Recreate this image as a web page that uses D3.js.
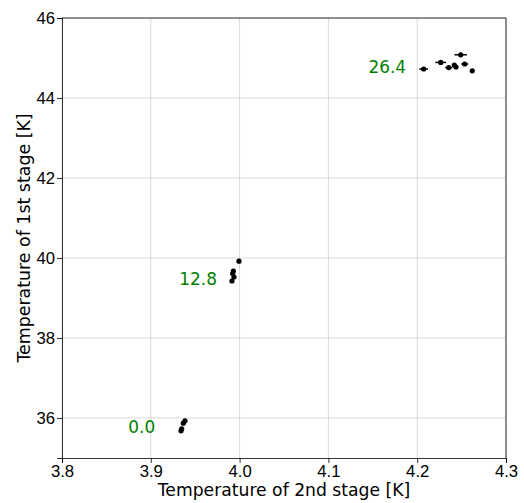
<!DOCTYPE html>
<html>
<head>
<meta charset="utf-8">
<script src="https://cdn.jsdelivr.net/npm/d3@7/dist/d3.min.js"></script>
<style>
  body { margin: 0; background: #fff; }
  svg { font-family: "DejaVu Sans", sans-serif; }
  .tick text { font-size: 16.7px; fill: #000; }
  .grid line { stroke: #b0b0b0; stroke-opacity: 0.6; stroke-width: 0.8; }
</style>
</head>
<body>
<svg id="chart" width="524" height="503"></svg>
<script>
// stage temperatures [K] per power setting
const stage2 = [
  3.9385, 3.9366, 3.9348, 3.9340,
  3.9993, 3.9930, 3.9922, 3.9937, 3.9914,
  4.2073, 4.2265, 4.2355, 4.2418, 4.2437, 4.2490, 4.2535, 4.2620
];
const stage1 = [
  35.93, 35.87, 35.73, 35.68,
  39.92, 39.675, 39.61, 39.525, 39.425,
  44.725, 44.89, 44.76, 44.825, 44.775, 45.08, 44.85, 44.68
];
const stage2Err = [
  0, 0, 0, 0,
  0, 0, 0, 0, 0,
  0.005, 0.006, 0.004, 0.002, 0.002, 0.007, 0.004, 0
];

// heater power labels, anchored at (stage 2, stage 1)
const labelText = ['0.0', '12.8', '26.4'];
const labelX = [3.905, 3.9745, 4.1874];
const labelY = [35.78, 39.475, 44.78];

const xTicks = [3.8, 3.9, 4.0, 4.1, 4.2, 4.3];
const yTicks = [36, 38, 40, 42, 44, 46];

const margin = { top: 18, right: 18, bottom: 45, left: 62 };
const svg = d3.select('#chart');
const width = 524 - margin.left - margin.right;
const height = 503 - margin.top - margin.bottom;

const x = d3.scaleLinear().domain([3.8, 4.3]).range([0, width]);
const y = d3.scaleLinear().domain([35, 46]).range([height, 0]);

const g = svg.append('g').attr('transform', `translate(${margin.left},${margin.top})`);

// grid
g.append('g').attr('class', 'grid')
  .selectAll('line.v').data(xTicks).join('line')
  .attr('x1', d => x(d)).attr('x2', d => x(d))
  .attr('y1', 0).attr('y2', height);
g.append('g').attr('class', 'grid')
  .selectAll('line.h').data(yTicks).join('line')
  .attr('x1', 0).attr('x2', width)
  .attr('y1', d => y(d)).attr('y2', d => y(d));

// axes
const xAxis = g.append('g')
  .attr('transform', `translate(0,${height})`)
  .call(d3.axisBottom(x).tickValues(xTicks).tickFormat(d3.format('.1f')).tickSize(5).tickPadding(2));
const yAxis = g.append('g')
  .call(d3.axisLeft(y).tickValues(yTicks).tickFormat(d3.format('d')).tickSize(5).tickPadding(2));
[xAxis, yAxis].forEach(a => {
  a.select('.domain').attr('stroke', '#000').attr('stroke-width', 0.8);
  a.selectAll('.tick line').attr('stroke', '#000').attr('stroke-width', 0.8);
});

// top and right spines
g.append('line').attr('x1', 0).attr('x2', width).attr('y1', 0).attr('y2', 0)
  .attr('stroke', '#000').attr('stroke-width', 0.8);
g.append('line').attr('x1', width).attr('x2', width).attr('y1', 0).attr('y2', height)
  .attr('stroke', '#000').attr('stroke-width', 0.8);

// error bars
const idx = d3.range(stage2.length);
g.append('g').selectAll('line').data(idx.filter(i => stage2Err[i] > 0)).join('line')
  .attr('x1', i => x(stage2[i] - stage2Err[i]))
  .attr('x2', i => x(stage2[i] + stage2Err[i]))
  .attr('y1', i => y(stage1[i])).attr('y2', i => y(stage1[i]))
  .attr('stroke', '#000').attr('stroke-width', 1.5);

// points
g.append('g').selectAll('circle').data(idx).join('circle')
  .attr('cx', i => x(stage2[i]))
  .attr('cy', i => y(stage1[i]))
  .attr('r', 2.6)
  .attr('fill', '#000');

// power labels
g.append('g').selectAll('text').data(labelText).join('text')
  .attr('x', (d, i) => x(labelX[i]))
  .attr('y', (d, i) => y(labelY[i]))
  .attr('text-anchor', 'end')
  .attr('dy', '0.36em')
  .attr('fill', 'green')
  .attr('font-size', 16.9)
  .text(d => d);

// axis titles
svg.append('text')
  .attr('x', margin.left + width / 2)
  .attr('y', 496)
  .attr('text-anchor', 'middle')
  .attr('font-size', 17.2)
  .text('Temperature of 2nd stage [K]');
svg.append('text')
  .attr('transform', `translate(30,${margin.top + height / 2}) rotate(-90)`)
  .attr('text-anchor', 'middle')
  .attr('font-size', 17.4)
  .text('Temperature of 1st stage [K]');
</script>
</body>
</html>
